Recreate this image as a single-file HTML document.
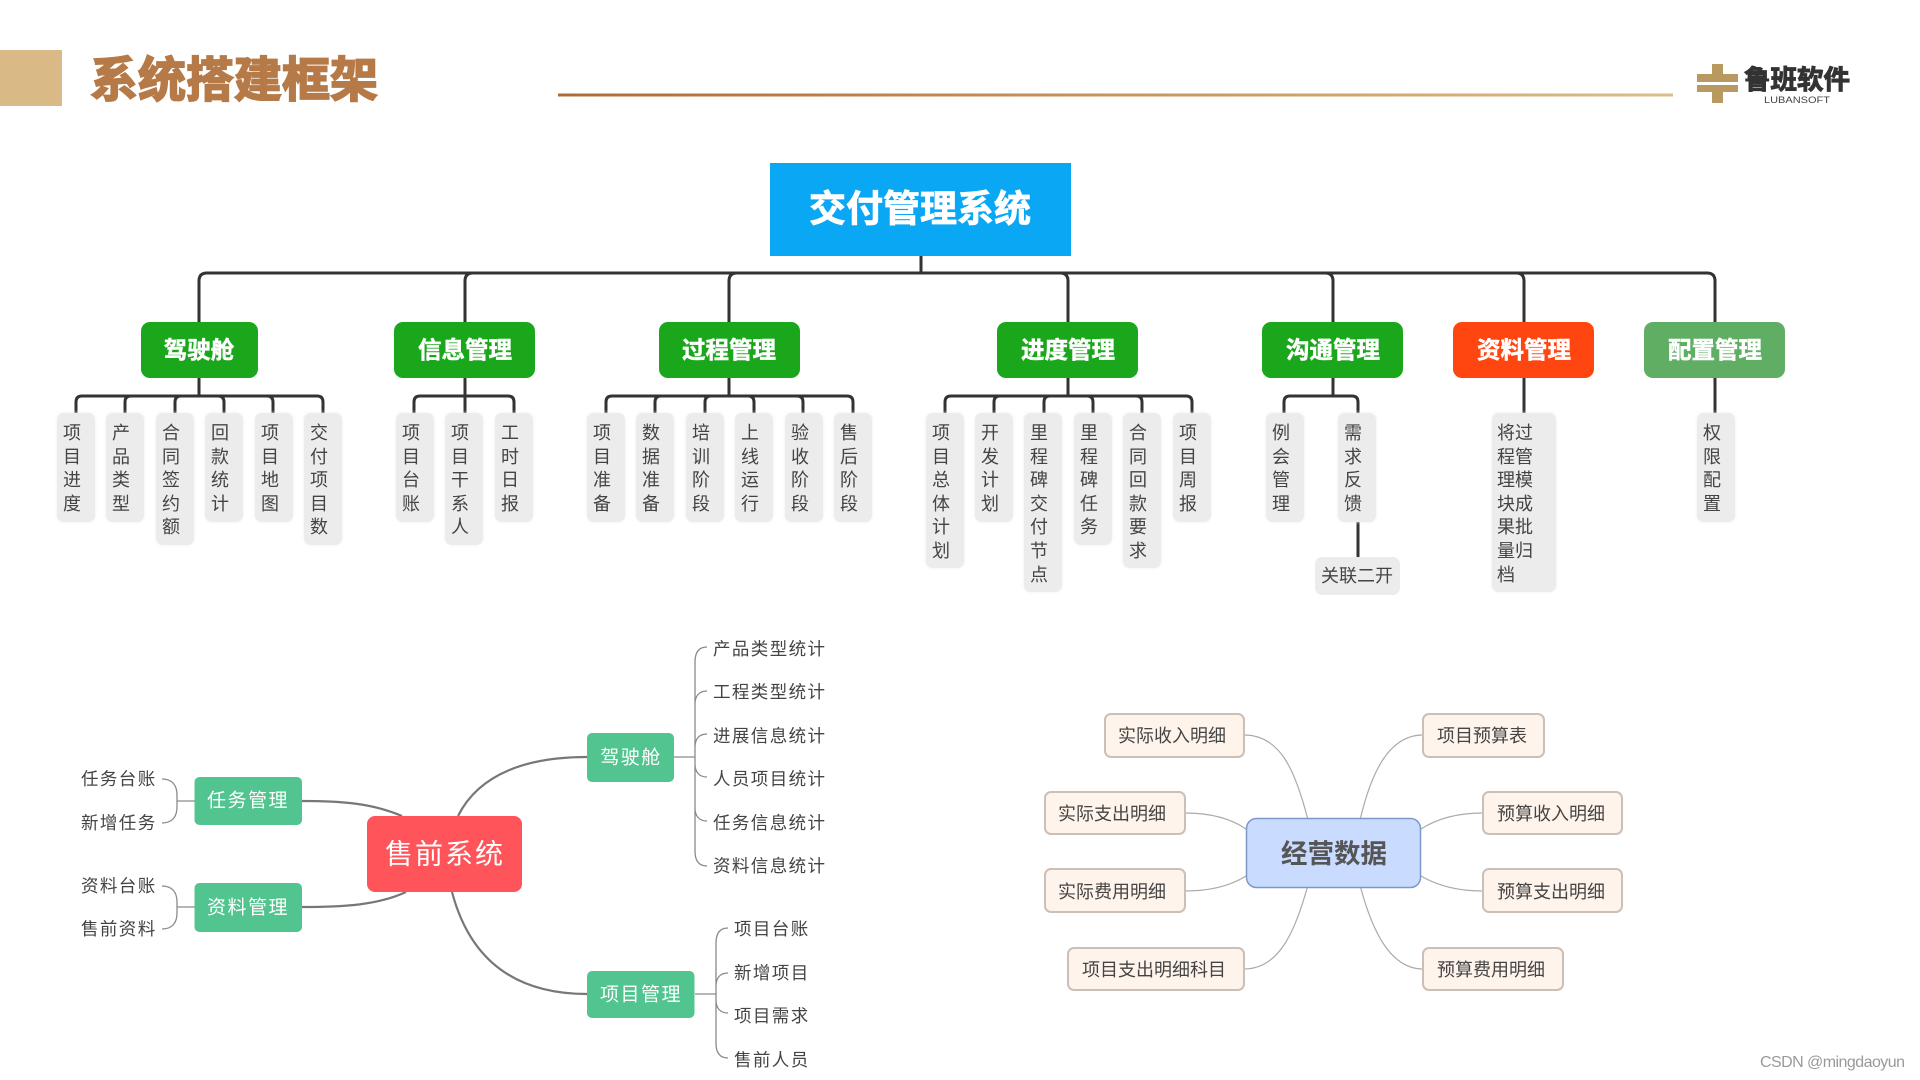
<!DOCTYPE html>
<html lang="zh"><head><meta charset="utf-8"><title>系统搭建框架</title>
<style>
html,body{margin:0;padding:0;background:#fff}
#p{position:relative;width:1920px;height:1080px;overflow:hidden;background:#fff;font-family:"Liberation Sans","Noto Sans CJK SC",sans-serif}
svg{position:absolute;left:0;top:0}
svg text{font-family:"Liberation Sans","Noto Sans CJK SC",sans-serif;transform:translateY(1px)}
.l{position:absolute;top:413px;width:38px;margin-left:1px;box-sizing:border-box;padding:9px 0 0 6px;background:#ececec;border-radius:7px;font-size:18px;line-height:23.6px;color:#444;box-shadow:0 0 3px #eee}
.h4{height:109px}.h5{height:132px}.h6{height:155px}.h7{height:179px}
.m{text-anchor:middle;dominant-baseline:central}
.w{fill:#fff;font-weight:700;font-size:23.5px;stroke:#fff;stroke-width:.5px}
.g{fill:#fff;font-size:19px;letter-spacing:1.5px}
.t{fill:#444;font-size:17.5px;letter-spacing:1.4px;dominant-baseline:central}
.b{fill:#444;font-size:18px;dominant-baseline:central}
.c{fill:none;stroke:#333;stroke-width:3}
.e{fill:none;stroke:#8a8a8a;stroke-width:1.3}
.f{fill:none;stroke:#777;stroke-width:2.2}
.s{fill:none;stroke:#aaa;stroke-width:1.2}
.x{fill:#fff4ec;stroke:#cbbfb7;stroke-width:2}
</style></head><body><div id="p">
<svg width="1920" height="1080" viewBox="0 0 1920 1080">
<defs>
<linearGradient id="lg" x1="558" x2="1673" y1="0" y2="0" gradientUnits="userSpaceOnUse"><stop offset="0" stop-color="#b26a35"/><stop offset="1" stop-color="#dcbd8a"/></linearGradient>
<g id="b6" class="c"><path d="M-123 413V402Q-123 396-117 396H118Q124 396 124 402V413"/><path d="M-74 413V402Q-74 396-68 396"/><path d="M-24 413V402Q-24 396-18 396"/><path d="M25 413V402Q25 396 19 396"/><path d="M74 413V402Q74 396 68 396"/><path d="M0 378V396"/></g>
</defs>
<rect x="0" y="50" width="62" height="56" fill="#d9b985"/>
<text x="90" y="80" font-size="48" font-weight="700" fill="#b57a47" stroke="#b57a47" stroke-width="1.800" dominant-baseline="central">系统搭建框架</text>
<rect x="558" y="93.5" width="1115" height="3" fill="url(#lg)"/>
<g fill="#b89a60"><rect x="1712" y="64" width="11" height="18"/><rect x="1712" y="85" width="11" height="18"/><rect x="1697" y="74" width="41" height="8"/><rect x="1697" y="85" width="41" height="7"/></g>
<text x="1744" y="79" font-size="26.500" font-weight="700" fill="#333" stroke="#333" stroke-width="1" dominant-baseline="central">鲁班软件</text>
<text x="1764" y="102" font-size="9" fill="#444" textLength="66" lengthAdjust="spacingAndGlyphs">LUBANSOFT</text>

<path class="c" d="M199 322V281Q199 273 207 273H1707Q1715 273 1715 281V322"/>
<path class="c" d="M465 322V281Q465 273 473 273M729 322V281Q729 273 737 273M1068 322V281Q1068 273 1060 273M1333 322V281Q1333 273 1325 273M1524 322V281Q1524 273 1516 273M921 256V273"/>
<rect x="770" y="163" width="301" height="93" fill="#0aa7f4"/>
<text class="m" x="920" y="208" font-size="37" font-weight="700" fill="#fff" stroke="#fff" stroke-width=".8">交付管理系统</text>

<use href="#b6" x="199"/><use href="#b6" x="729"/><use href="#b6" x="1068"/>
<path class="c" d="M414 413V402Q414 396 420 396H508Q514 396 514 402V413M465 378V413"/>
<path class="c" d="M1284 413V402Q1284 396 1290 396H1352Q1358 396 1358 402V413M1333 378V396M1358 522V557M1524 378V413M1715 378V413"/>

<g fill="#1aa71b">
<rect x="141" y="322" width="117" height="56" rx="9"/>
<rect x="394" y="322" width="141" height="56" rx="9"/>
<rect x="659" y="322" width="141" height="56" rx="9"/>
<rect x="997" y="322" width="141" height="56" rx="9"/>
<rect x="1262" y="322" width="141" height="56" rx="9"/>
</g>
<rect x="1453" y="322" width="141" height="56" rx="9" fill="#ff4510"/>
<rect x="1644" y="322" width="141" height="56" rx="9" fill="#5fae63"/>
<text class="m w" x="199" y="349">驾驶舱</text>
<text class="m w" x="465" y="349">信息管理</text>
<text class="m w" x="729" y="349">过程管理</text>
<text class="m w" x="1068" y="349">进度管理</text>
<text class="m w" x="1333" y="349">沟通管理</text>
<text class="m w" x="1524" y="349">资料管理</text>
<text class="m w" x="1715" y="349">配置管理</text>

<rect x="1315" y="557" width="85" height="38" rx="7" fill="#ececec"/>
<text class="m" x="1357" y="575" font-size="18" fill="#444">关联二开</text>

<!-- 售前系统 -->
<path class="f" d="M302 801C340 801 372 803 402 816M302 907C345 907 378 905 406 892M458 816C480 772 530 757 587 757M452 892C470 960 515 994 587 994"/>
<path class="e" d="M674 757H695M162 779C172 779 177 785 177 795V807C177 817 172 823 162 823M177 801H195M162 886C172 886 177 892 177 902V913C177 923 172 929 162 929M177 907H195"/>
<path class="e" d="M707 647C699 647 695 652 695 662V851C695 861 699 866 707 866M707 691C699 691 695 696 695 704M707 734C699 734 695 739 695 747M707 777C699 777 695 772 695 764M707 821C699 821 695 816 695 808"/>
<path class="e" d="M695 994H716M728 928C720 928 716 933 716 943V1043C716 1053 720 1058 728 1058M728 973C720 973 716 978 716 986M728 1013C720 1013 716 1008 716 1000"/>
<rect x="367" y="816" width="155" height="76" rx="8" fill="#ff5459"/>
<text class="m" x="445" y="853" font-size="28" letter-spacing="2" fill="#fff">售前系统</text>
<g fill="#52c48f">
<rect x="587" y="733" width="87" height="49" rx="5"/>
<rect x="194.500" y="777" width="107.500" height="48" rx="5"/>
<rect x="194.500" y="883" width="107.500" height="49" rx="5"/>
<rect x="587" y="971" width="107.500" height="47" rx="5"/>
</g>
<text class="m g" x="631" y="757">驾驶舱</text>
<text class="m g" x="248" y="800">任务管理</text>
<text class="m g" x="248" y="907">资料管理</text>
<text class="m g" x="641" y="994">项目管理</text>
<text class="t" x="713" y="648">产品类型统计</text>
<text class="t" x="713" y="691">工程类型统计</text>
<text class="t" x="713" y="735">进展信息统计</text>
<text class="t" x="713" y="778">人员项目统计</text>
<text class="t" x="713" y="822">任务信息统计</text>
<text class="t" x="713" y="865">资料信息统计</text>
<text class="t" x="734" y="928">项目台账</text>
<text class="t" x="734" y="972">新增项目</text>
<text class="t" x="734" y="1015">项目需求</text>
<text class="t" x="734" y="1059">售前人员</text>
<text class="t" x="81" y="778">任务台账</text>
<text class="t" x="81" y="822">新增任务</text>
<text class="t" x="81" y="885">资料台账</text>
<text class="t" x="81" y="928">售前资料</text>

<!-- 经营数据 -->
<path class="s" d="M1244 735C1280 735 1295 770 1307.500 818M1423 735C1390 735 1372 770 1360.500 818M1185 813C1210 813 1230 818 1246 829M1483 813C1458 813 1438 818 1421 829M1185 891C1210 891 1230 886 1246 876M1483 891C1458 891 1438 886 1421 876M1244 969C1280 969 1295 930 1307.500 887M1423 969C1390 969 1372 930 1360.500 887"/>
<rect x="1246.500" y="818.500" width="174" height="69" rx="10" fill="#c9dcff" stroke="#7f97c8" stroke-width="1.500"/>
<text class="m" x="1334" y="853" font-size="26.500" font-weight="700" fill="#555">经营数据</text>
<rect class="x" x="1105" y="714" width="139" height="43" rx="6"/>
<rect class="x" x="1423" y="714" width="121" height="43" rx="6"/>
<rect class="x" x="1045" y="792" width="140" height="42" rx="6"/>
<rect class="x" x="1483" y="792" width="139" height="42" rx="6"/>
<rect class="x" x="1045" y="869" width="140" height="43" rx="6"/>
<rect class="x" x="1483" y="869" width="139" height="43" rx="6"/>
<rect class="x" x="1068" y="948" width="176" height="42" rx="6"/>
<rect class="x" x="1423" y="948" width="140" height="42" rx="6"/>
<text class="b" x="1118" y="735">实际收入明细</text>
<text class="b" x="1437" y="735">项目预算表</text>
<text class="b" x="1058" y="813">实际支出明细</text>
<text class="b" x="1497" y="813">预算收入明细</text>
<text class="b" x="1058" y="891">实际费用明细</text>
<text class="b" x="1497" y="891">预算支出明细</text>
<text class="b" x="1082" y="969">项目支出明细科目</text>
<text class="b" x="1437" y="969">预算费用明细</text>

<text x="1760" y="1066" font-size="16" fill="#9a9a9a" textLength="145">CSDN @mingdaoyun</text>
</svg>

<div class="l h4" style="left:56px">项<br>目<br>进<br>度</div>
<div class="l h4" style="left:105px">产<br>品<br>类<br>型</div>
<div class="l h5" style="left:155px">合<br>同<br>签<br>约<br>额</div>
<div class="l h4" style="left:204px">回<br>款<br>统<br>计</div>
<div class="l h4" style="left:254px">项<br>目<br>地<br>图</div>
<div class="l h5" style="left:303px">交<br>付<br>项<br>目<br>数</div>

<div class="l h4" style="left:395px">项<br>目<br>台<br>账</div>
<div class="l h5" style="left:444px">项<br>目<br>干<br>系<br>人</div>
<div class="l h4" style="left:494px">工<br>时<br>日<br>报</div>

<div class="l h4" style="left:586px">项<br>目<br>准<br>备</div>
<div class="l h4" style="left:635px">数<br>据<br>准<br>备</div>
<div class="l h4" style="left:685px">培<br>训<br>阶<br>段</div>
<div class="l h4" style="left:734px">上<br>线<br>运<br>行</div>
<div class="l h4" style="left:784px">验<br>收<br>阶<br>段</div>
<div class="l h4" style="left:833px">售<br>后<br>阶<br>段</div>

<div class="l h6" style="left:925px">项<br>目<br>总<br>体<br>计<br>划</div>
<div class="l h4" style="left:974px">开<br>发<br>计<br>划</div>
<div class="l h7" style="left:1023px">里<br>程<br>碑<br>交<br>付<br>节<br>点</div>
<div class="l h5" style="left:1073px">里<br>程<br>碑<br>任<br>务</div>
<div class="l h6" style="left:1122px">合<br>同<br>回<br>款<br>要<br>求</div>
<div class="l h4" style="left:1172px">项<br>目<br>周<br>报</div>

<div class="l h4" style="left:1265px">例<br>会<br>管<br>理</div>
<div class="l h4" style="left:1337px">需<br>求<br>反<br>馈</div>

<div class="l h7" style="left:1491px;width:64px;padding-left:5px">将过<br>程管<br>理模<br>块成<br>果批<br>量归<br>档</div>
<div class="l h4" style="left:1696px">权<br>限<br>配<br>置</div>
</div></body></html>
